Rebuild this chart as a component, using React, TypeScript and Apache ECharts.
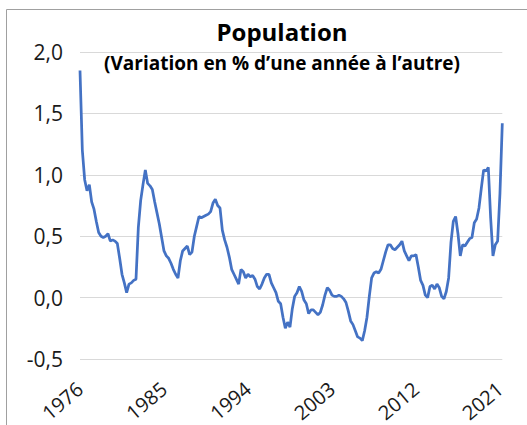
import React, { useEffect, useRef } from "react";
import * as echarts from "echarts";

// Quarterly year-over-year population change (%), 1976 Q1 onward
const values: number[] = [
  1.85, 1.2, 0.96, 0.87, 0.92, 0.78, 0.72, 0.62, 0.53, 0.5,
  0.49, 0.5, 0.52, 0.46, 0.47, 0.46, 0.44, 0.32, 0.19, 0.12,
  0.04, 0.11, 0.12, 0.14, 0.15, 0.57, 0.79, 0.92, 1.04, 0.93,
  0.91, 0.88, 0.78, 0.69, 0.6, 0.49, 0.38, 0.34, 0.32, 0.28,
  0.23, 0.19, 0.16, 0.3, 0.38, 0.4, 0.42, 0.35, 0.37, 0.5,
  0.58, 0.66, 0.65, 0.66, 0.67, 0.68, 0.7, 0.77, 0.8, 0.75,
  0.73, 0.55, 0.47, 0.41, 0.33, 0.23, 0.19, 0.15, 0.11, 0.23,
  0.21, 0.16, 0.19, 0.17, 0.18, 0.15, 0.09, 0.07, 0.11, 0.16,
  0.19, 0.19, 0.12, 0.08, 0.04, -0.03, -0.05, -0.16, -0.25, -0.2,
  -0.24, -0.09, 0.01, 0.04, 0.09, 0.05, -0.02, -0.05, -0.13, -0.1,
  -0.1, -0.12, -0.14, -0.12, -0.06, 0.02, 0.08, 0.06, 0.02, 0.01,
  0.01, 0.02, 0.01, -0.01, -0.04, -0.11, -0.19, -0.22, -0.27, -0.32,
  -0.33, -0.35, -0.27, -0.16, 0.01, 0.16, 0.2, 0.21, 0.2, 0.23,
  0.3, 0.37, 0.43, 0.43, 0.4, 0.39, 0.41, 0.43, 0.46, 0.38,
  0.34, 0.3, 0.34, 0.34, 0.35, 0.25, 0.14, 0.1, 0.02, 0.0,
  0.09, 0.1, 0.07, 0.11, 0.08, 0.01, -0.01, 0.05, 0.16, 0.45,
  0.62, 0.66, 0.52, 0.34, 0.43, 0.42, 0.45, 0.48, 0.49, 0.61,
  0.64, 0.73, 0.89, 1.04, 1.03, 1.06, 0.65, 0.34, 0.43, 0.46,
  0.85, 1.42,
];

const startYear = 1976;
const labelYears: string[] = ["1976", "1985", "1994", "2003", "2012", "2021"];
const yTicks: number[] = [-0.5, 0, 0.5, 1, 1.5, 2];

const categories: string[] = values.map(
  (_, i) => `${startYear + Math.floor(i / 4)}-T${(i % 4) + 1}`
);

const titleText = "Population";
const subtitleText = "(Variation en % d\u2019une ann\u00e9e \u00e0 l\u2019autre)";

export default function App() {
  const ref = useRef<HTMLDivElement>(null);

  useEffect(() => {
    if (!ref.current) return;
    const chart = echarts.init(ref.current, null, { renderer: "svg" });
    const font = "'Open Sans', 'Noto Sans', sans-serif";
    chart.setOption({
      animation: false,
      backgroundColor: "#ffffff",
      grid: { left: 80, right: 24.7, top: 52, bottom: 66, containLabel: false },
      xAxis: {
        type: "category",
        data: categories,
        boundaryGap: false,
        axisLine: { show: false },
        axisTick: { show: false },
        splitLine: { show: false },
        axisLabel: {
          interval: (index: number) => index % 36 === 0 && labelYears.includes(categories[index].slice(0, 4)),
          formatter: (v: string) => v.slice(0, 4),
          rotate: 40,
          margin: 27,
          fontSize: 20,
          fontFamily: font,
          color: "#1a1a1a",
        },
      },
      yAxis: {
        type: "value",
        min: yTicks[0],
        max: yTicks[yTicks.length - 1],
        interval: 0.5,
        axisLine: { show: false },
        axisTick: { show: false },
        splitLine: { lineStyle: { color: "#d9d9d9", width: 1 } },
        axisLabel: {
          margin: 17,
          fontSize: 21,
          fontFamily: font,
          color: "#1a1a1a",
          formatter: (v: number) => v.toFixed(1).replace(".", ","),
        },
      },
      series: [
        {
          type: "line",
          data: values,
          showSymbol: false,
          smooth: false,
          lineStyle: { color: "#4472C4", width: 2.75 },
          itemStyle: { color: "#4472C4" },
        },
      ],
      graphic: [
        {
          type: "rect",
          silent: true,
          shape: { x: 6.5, y: 9.5, width: 600, height: 500 },
          style: { fill: "none", stroke: "#a0a0a0", lineWidth: 1 },
        },
        {
          type: "text",
          x: 282,
          y: 31,
          style: {
            text: titleText,
            fontSize: 24,
            fontWeight: "bold",
            fontFamily: font,
            fill: "#000000",
            textAlign: "center",
            textVerticalAlign: "middle",
          },
        },
        {
          type: "text",
          x: 282,
          y: 63,
          style: {
            text: subtitleText,
            fontSize: 19,
            fontWeight: "bold",
            fontFamily: font,
            fill: "#000000",
            textAlign: "center",
            textVerticalAlign: "middle",
          },
        },
      ],
    });
    return () => chart.dispose();
  }, []);

  return (
    <div
      ref={ref}
      style={{ position: "fixed", left: 0, top: 0, width: 527, height: 425 }}
    />
  );
}
